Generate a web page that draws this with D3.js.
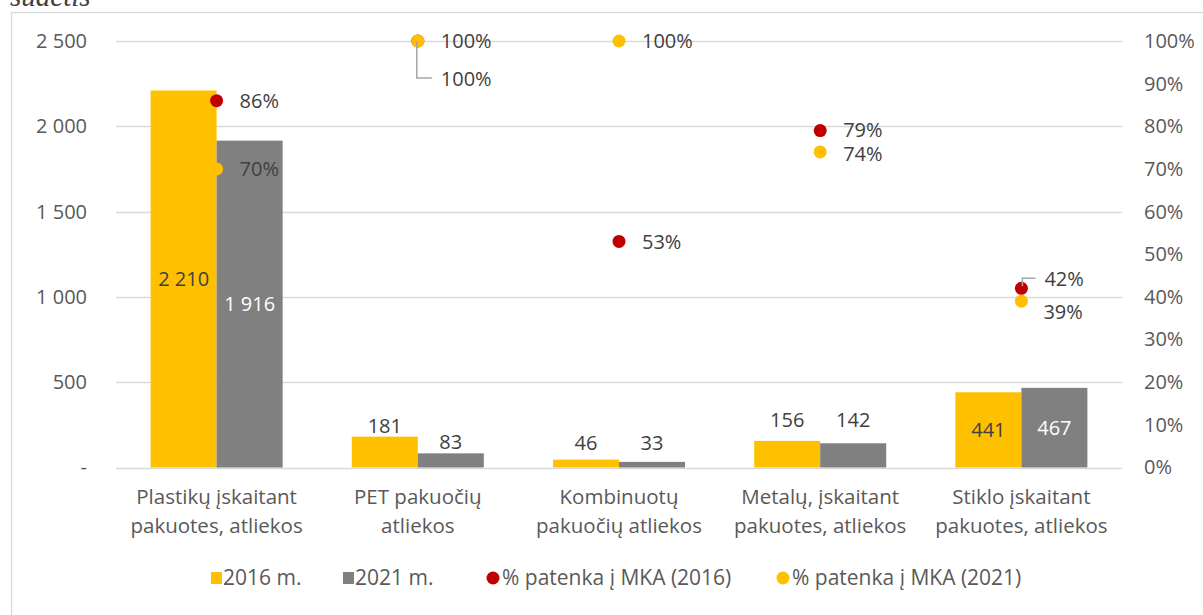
<!DOCTYPE html>
<html><head><meta charset="utf-8">
<script src="https://cdn.jsdelivr.net/npm/d3@7"></script>
<style>body{margin:0;background:#fff}svg{display:block;font-family:"Open Sans",sans-serif}</style>
</head><body>
<svg id="c" width="1203" height="615"></svg>
<script>
const categories = ["Plastikų įskaitant\npakuotes, atliekos","PET pakuočių\natliekos","Kombinuotų\npakuočių atliekos","Metalų, įskaitant\npakuotes, atliekos","Stiklo įskaitant\npakuotes, atliekos"];
const values2016 = [2210, 181, 46, 156, 441];
const values2021 = [1916, 83, 33, 142, 467];
const share2016 = [0.86, 1.00, 0.53, 0.79, 0.42];
const share2021 = [0.70, 1.00, 1.00, 0.74, 0.39];
const leftTicks = [0, 500, 1000, 1500, 2000, 2500];
const rightTicks = [0,0.1,0.2,0.3,0.4,0.5,0.6,0.7,0.8,0.9,1.0];
const legendLabels = ["2016 m.","2021 m.","% patenka į MKA (2016)","% patenka į MKA (2021)"];
const titleText = "sudėtis";

const C = {y16:"#FFC000", g21:"#808080", red:"#C00000", grid:"#D9D9D9", tick:"#595959", lab:"#404040"};
const svg = d3.select("#c");
const fmt = d3.formatLocale({decimal:",",thousands:"\u00a0",grouping:[3],currency:["",""]}).format(",d");

const L=116, R=1122, T=41, B=467.5;
const y = d3.scaleLinear().domain([0,2500]).range([B,T]);
const yr = d3.scaleLinear().domain([0,1]).range([B,T]);
const x = d3.scaleBand().domain(categories).range([L,R]);
const xs = d3.scaleBand().domain(["2016","2021"]).range([0,x.bandwidth()]).paddingInner(0).paddingOuter(0.524);

// outer border and cut title
svg.append("rect").attr("x",11.5).attr("y",12.5).attr("width",1200).attr("height",620).attr("fill","none").attr("stroke",C.grid).attr("stroke-width",1.3);
svg.append("text").attr("x",10).attr("y",6).attr("font-family","Liberation Serif, serif").attr("font-style","italic").attr("font-size",29).attr("fill","#404040").text(titleText);

// gridlines
svg.append("g").selectAll("line").data(leftTicks).join("line")
  .attr("x1",L).attr("x2",R).attr("y1",d=>Math.round(y(d))+0.5).attr("y2",d=>Math.round(y(d))+0.5)
  .attr("stroke",C.grid).attr("stroke-width",1.3);

// left axis
const la = svg.append("g").attr("transform",`translate(${L},0)`)
  .call(d3.axisLeft(y).tickValues(leftTicks).tickSize(0).tickPadding(29).tickFormat(d=>d===0?"-":fmt(d)));
la.select(".domain").remove();
la.selectAll("text").attr("font-family","Open Sans").attr("font-size",20).attr("fill",C.tick);

// right axis
const ra = svg.append("g").attr("transform",`translate(${R},0)`)
  .call(d3.axisRight(yr).tickValues(rightTicks).tickSize(0).tickPadding(22).tickFormat(d3.format(".0%")));
ra.select(".domain").remove();
ra.selectAll("text").attr("font-family","Open Sans").attr("font-size",20).attr("fill",C.tick);

// bars
const series = [{k:"2016",v:values2016,c:C.y16,tc:C.lab},{k:"2021",v:values2021,c:C.g21,tc:"#fff"}];
const insideIdx = [0,4];
const outsideGap = {"2016":[0,4,10,14,0],"2021":[0,4,12,16,0]};
series.forEach(s=>{
  const g = svg.append("g");
  g.selectAll("rect").data(s.v).join("rect")
    .attr("x",(d,i)=>x(categories[i])+xs(s.k)).attr("width",xs.bandwidth())
    .attr("y",d=>y(d)).attr("height",d=>B-y(d)).attr("fill",s.c);
  g.selectAll("text").data(s.v).join("text")
    .attr("x",(d,i)=>x(categories[i])+xs(s.k)+xs.bandwidth()/2)
    .attr("y",(d,i)=>insideIdx.includes(i)?(y(d)+B)/2:y(d)-outsideGap[s.k][i])
    .attr("dy",(d,i)=>insideIdx.includes(i)?"0.35em":null)
    .attr("text-anchor","middle").attr("font-size",20)
    .attr("fill",(d,i)=>insideIdx.includes(i)?s.tc:C.lab)
    .text(d=>fmt(d));
});

// category labels
const cx = i=>x(categories[i])+x.bandwidth()/2;
const cl = svg.append("g");
categories.forEach((c,i)=>{
  const t = cl.append("text").attr("text-anchor","middle").attr("font-size",20.5).attr("fill",C.tick);
  c.split("\n").forEach((ln,j)=>t.append("tspan").attr("x",cx(i)).attr("y",504+j*29).text(ln));
});

// dots
const dotSeries = [{v:share2016,c:C.red},{v:share2021,c:C.y16}];
const dotLab = [
  [[23,0],[23,0],[23,1],[23,-1],[23,-9]],
  [[23,0],[23,38],[23,0],[23,2],[22,11]]
];
dotSeries.forEach((s,si)=>{
  svg.append("g").selectAll("circle").data(s.v).join("circle")
    .attr("cx",(d,i)=>cx(i)).attr("cy",d=>yr(d)).attr("r",6.5).attr("fill",s.c);
});
const lead = svg.append("g").attr("fill","none").attr("stroke","#A6A6A6").attr("stroke-width",1.5);
lead.append("path").attr("d",`M${cx(1)-1},${yr(share2021[1])}V${yr(share2021[1])+37}H${cx(1)+14}`);
lead.append("path").attr("d",`M${cx(4)+1},${yr(share2016[4])-2}V${yr(share2016[4])-10}H${cx(4)+14}`);
dotSeries.forEach((s,si)=>{
  svg.append("g").selectAll("text").data(s.v).join("text")
    .attr("x",(d,i)=>cx(i)+dotLab[si][i][0]).attr("y",(d,i)=>yr(d)+dotLab[si][i][1])
    .attr("dy","0.35em").attr("font-size",20).attr("fill",C.lab)
    .text(d=>d3.format(".0%")(d));
});

// legend
const lg = svg.append("g").attr("font-size",21).attr("fill",C.tick);
const starts = [211,343,487,777];
legendLabels.forEach((l,i)=>{
  const x0 = starts[i];
  if(i<2) lg.append("rect").attr("x",x0).attr("y",572).attr("width",11).attr("height",12).attr("fill",i===0?C.y16:C.g21);
  else lg.append("circle").attr("cx",x0+6).attr("cy",578).attr("r",6.5).attr("fill",i===2?C.red:C.y16);
  lg.append("text").attr("x",x0+(i<2?12:15)).attr("y",578).attr("dy","0.35em").text(l);
});
</script>
</body></html>
